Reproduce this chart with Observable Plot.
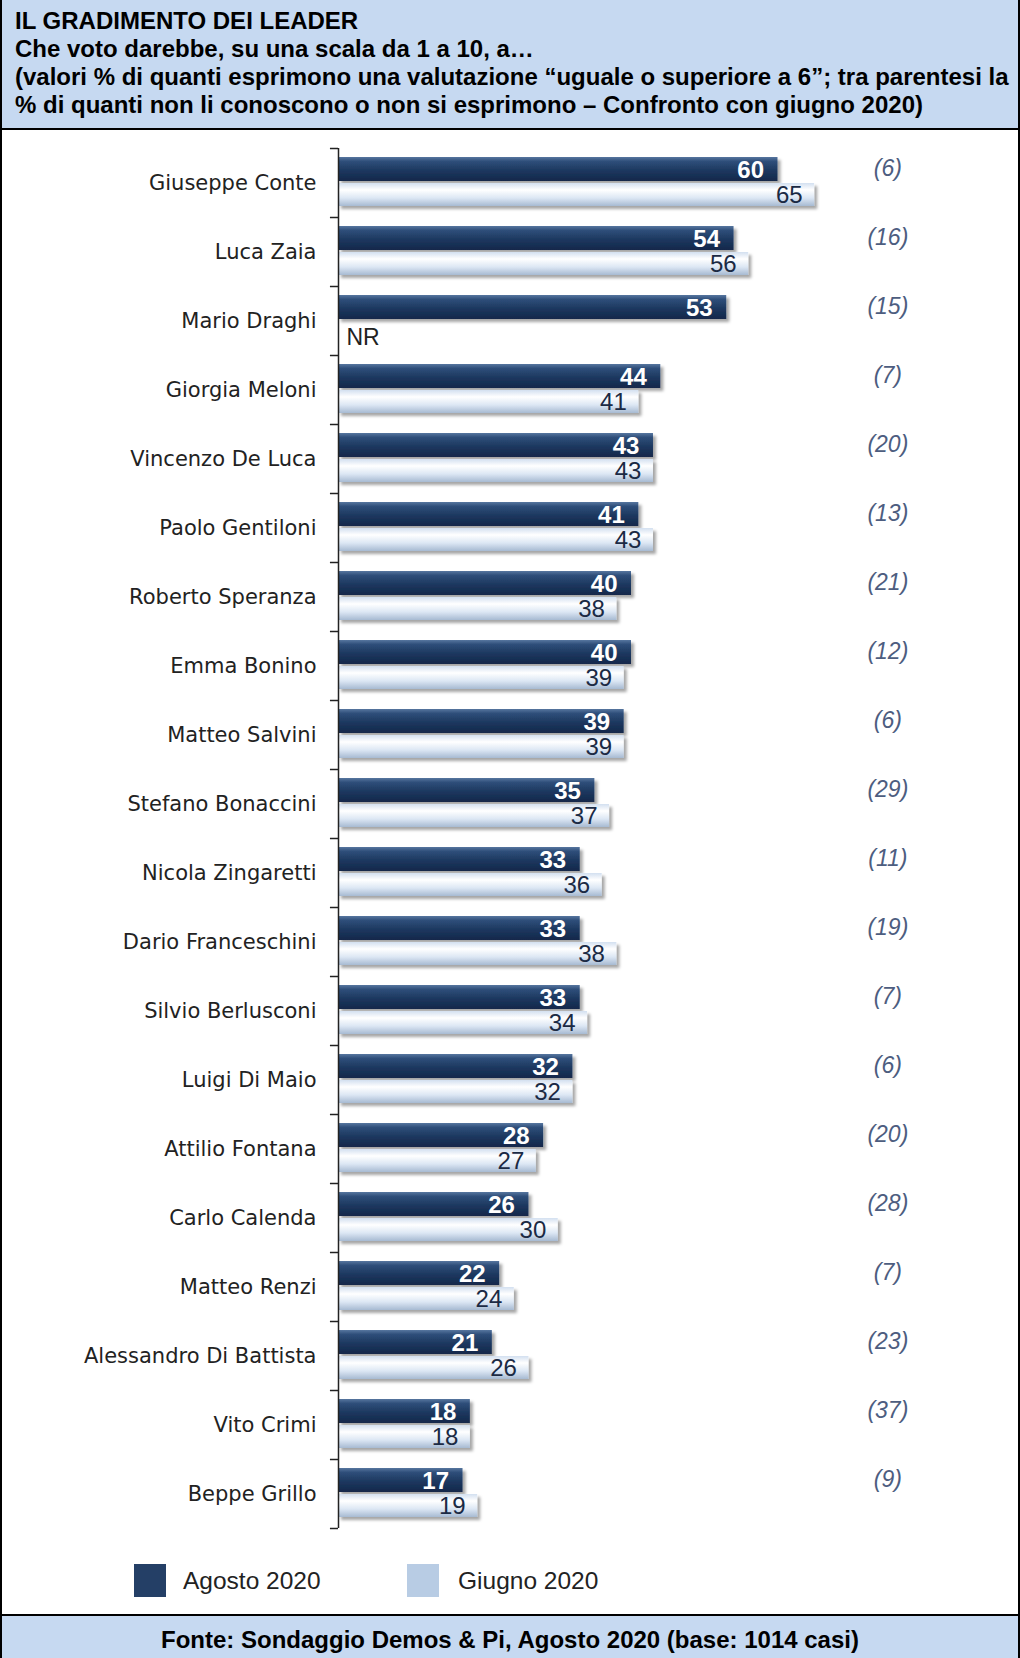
<!DOCTYPE html>
<html>
<head>
<meta charset="utf-8">
<script src="https://cdn.jsdelivr.net/npm/d3@7"></script>
<script src="https://cdn.jsdelivr.net/npm/@observablehq/plot@0.6"></script>
<style>
  html, body { margin: 0; padding: 0; background: #fff; }
  #box { width: 1020px; height: 1658px; box-sizing: border-box; border-left: 2px solid #000; border-right: 2px solid #000; position: relative; overflow: hidden; }
  #head { height: 130px; box-sizing: border-box; background: #c6d9f1; border-bottom: 2px solid #000; padding: 7px 0 0 13px; font-family: "Liberation Sans", Arial, sans-serif; font-weight: bold; font-size: 24px; line-height: 28px; color: #000; }
  #head div { white-space: nowrap; }
  #chart { height: 1407px; }
  #legend { height: 75px; position: relative; font-family: "Liberation Sans", Arial, sans-serif; font-size: 24.5px; color: #222; }
  .sw { position: absolute; top: 27px; width: 32px; height: 33px; }
  .lt { position: absolute; top: 30px; line-height: 28px; }
  #foot { position: absolute; left: 0; right: 0; bottom: 0; height: 44px; box-sizing: border-box; background: #c6d9f1; border-top: 2px solid #000; text-align: center; font-family: "Liberation Sans", Arial, sans-serif; font-weight: bold; font-size: 24px; line-height: 48px; color: #000; }
</style>
</head>
<body>
<div id="box">
  <div id="head">
    <div>IL GRADIMENTO DEI LEADER</div>
    <div>Che voto darebbe, su una scala da 1 a 10, a…</div>
    <div>(valori % di quanti esprimono una valutazione “uguale o superiore a 6”; tra parentesi la</div>
    <div>% di quanti non li conoscono o non si esprimono – Confronto con giugno 2020)</div>
  </div>
  <div id="chart"></div>
  <div id="legend">
    <div class="sw" style="left:132px;background:#243f66"></div>
    <div class="lt" style="left:181px">Agosto 2020</div>
    <div class="sw" style="left:405px;background:#b8cce4"></div>
    <div class="lt" style="left:456px">Giugno 2020</div>
  </div>
  <div id="foot">Fonte: Sondaggio Demos &amp; Pi, Agosto 2020 (base: 1014 casi)</div>
</div>
<script>
const names = ["Giuseppe Conte","Luca Zaia","Mario Draghi","Giorgia Meloni","Vincenzo De Luca","Paolo Gentiloni","Roberto Speranza","Emma Bonino","Matteo Salvini","Stefano Bonaccini","Nicola Zingaretti","Dario Franceschini","Silvio Berlusconi","Luigi Di Maio","Attilio Fontana","Carlo Calenda","Matteo Renzi","Alessandro Di Battista","Vito Crimi","Beppe Grillo"];
const agosto2020 = [60,54,53,44,43,41,40,40,39,35,33,33,33,32,28,26,22,21,18,17];
const giugno2020 = [65,56,null,41,43,43,38,39,39,37,36,38,34,32,27,30,24,26,18,19];
const nonSiEsprimono = [6,16,15,7,20,13,21,12,6,29,11,19,7,6,20,28,7,23,37,9];
const nrLabel = "NR";

const data = names.map((name, i) => ({name, agosto: agosto2020[i], giugno: giugno2020[i], ns: nonSiEsprimono[i]}));
const lastName = names[names.length - 1];
const font = "Liberation Sans, Arial, sans-serif";

const plot = Plot.plot({
  width: 1016,
  height: 1407,
  marginTop: 18,
  marginBottom: 9,
  marginLeft: 336,
  marginRight: 94,
  style: {background: "transparent", fontFamily: font},
  x: {domain: [0, 80], axis: null},
  y: {domain: names, padding: 0, axis: null},
  marks: [
    Plot.barX(data, {x: "agosto", y: "name", fill: "#1f3a60", insetTop: 9, insetBottom: 36, ariaLabel: () => "agosto"}),
    Plot.barX(data.filter(d => d.giugno != null), {x: "giugno", y: "name", fill: "#c6d9f1", insetTop: 35, insetBottom: 11, ariaLabel: () => "giugno"}),
    Plot.ruleX([0], {stroke: "#222", strokeWidth: 1.5}),
    Plot.ruleY(names, {y: d => d, x1: -1.1, x2: 0, dy: -34.5, stroke: "#222", strokeWidth: 1.5}),
    Plot.ruleY([lastName], {y: d => d, x1: -1.1, x2: 0, dy: 34.5, stroke: "#222", strokeWidth: 1.5}),
    Plot.text(data, {x: 0, y: "name", text: "name", textAnchor: "end", dx: -22, fontSize: 21, fontFamily: "DejaVu Sans", fill: "#222"}),
    Plot.text(data, {x: "agosto", y: "name", text: d => String(d.agosto), textAnchor: "end", dx: -14, dy: -13, fontSize: 24, fontWeight: "bold", fill: "#fff"}),
    Plot.text(data.filter(d => d.giugno != null), {x: "giugno", y: "name", text: d => String(d.giugno), textAnchor: "end", dx: -12, dy: 12, fontSize: 24, fill: "#1b2a44"}),
    Plot.text(data.filter(d => d.giugno == null), {x: 0, y: "name", text: () => nrLabel, textAnchor: "start", dx: 8, dy: 17, fontSize: 23, fill: "#222"}),
    Plot.text(data, {x: () => 75, y: "name", text: d => `(${d.ns})`, textAnchor: "middle", dy: -14, fontSize: 23, fontStyle: "italic", fill: "#4d5d80"})
  ]
});

const svg = d3.select(plot);
svg.insert("defs", ":first-child").html(`
  <linearGradient id="gDark" x1="0" y1="0" x2="0" y2="1">
    <stop offset="0" stop-color="#56769f"/>
    <stop offset="0.18" stop-color="#2f4f7a"/>
    <stop offset="0.55" stop-color="#1d3860"/>
    <stop offset="1" stop-color="#13284a"/>
  </linearGradient>
  <linearGradient id="gLight" x1="0" y1="0" x2="0" y2="1">
    <stop offset="0" stop-color="#d3e0f0"/>
    <stop offset="0.3" stop-color="#ffffff"/>
    <stop offset="0.65" stop-color="#dce7f4"/>
    <stop offset="1" stop-color="#a7bad2"/>
  </linearGradient>
  <filter id="shadow" x="-5%" y="-30%" width="110%" height="180%">
    <feDropShadow dx="3" dy="3" stdDeviation="1.5" flood-color="#000" flood-opacity="0.35"/>
  </filter>`);
svg.selectAll('rect[aria-label="agosto"]').attr("fill", "url(#gDark)").attr("filter", "url(#shadow)");
svg.selectAll('rect[aria-label="giugno"]').attr("fill", "url(#gLight)").attr("filter", "url(#shadow)");
document.getElementById("chart").appendChild(plot);
</script>
</body>
</html>
